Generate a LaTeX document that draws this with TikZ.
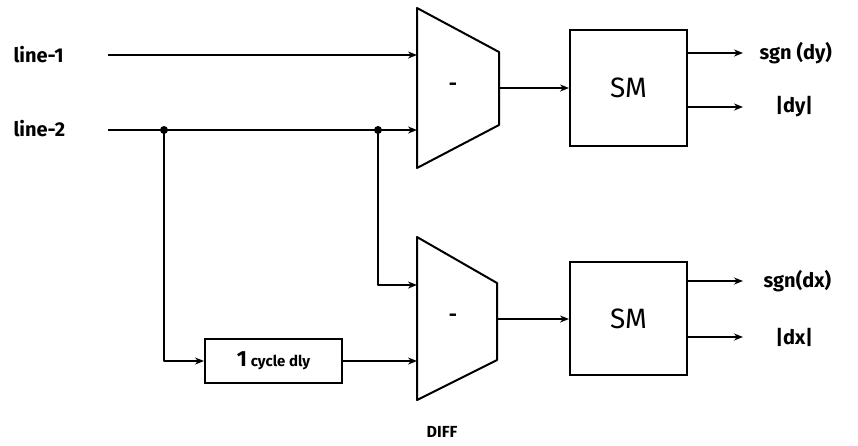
\documentclass[tikz,border=0pt]{standalone}
\usepackage{fontspec}
\setmainfont{Fira Sans}
\usetikzlibrary{arrows.meta}
\begin{document}
\begin{tikzpicture}[x=1pt,y=-1pt,
  wire/.style={line width=2pt,line join=round},
  arr/.style={wire,-{Stealth[length=9pt,width=7pt]}},
  box/.style={draw,line width=2pt,inner sep=0pt},
  lbl/.style={font=\bfseries\fontsize{20}{24}\selectfont},
  dot/.style={circle,fill,inner sep=0pt,minimum size=8pt}]
\useasboundingbox (0,0) rectangle (858,445);
% labels
\node[lbl,anchor=west] (l1) at (10,55) {line-1};
\node[lbl,anchor=west] (l2) at (10,129) {line-2};
% muxes
\draw[wire] (417,8) -- (499,52) -- (499,125) -- (417,168) -- cycle;
\coordinate (m1a) at (417,55);
\coordinate (m1b) at (417,130);
\coordinate (m1o) at (499,88);
\node[lbl] (m1m) at (453,87) {-};
\draw[wire] (417,237) -- (497,283) -- (497,360) -- (417,400) -- cycle;
\coordinate (m2a) at (417,285);
\coordinate (m2b) at (417,361);
\coordinate (m2o) at (497,319);
\node[lbl] (m2m) at (453,318) {-};
\node[font=\bfseries\fontsize{16}{19}\selectfont] (diff) at (442,432) {DIFF};
% SM boxes
\node[box,minimum width=117pt,minimum height=116pt] (sm1) at (628.5,88) {};
\node[font=\fontsize{28}{32}\selectfont] (sm1t) at (sm1.center) {SM};
\node[box,minimum width=117pt,minimum height=113pt] (sm2) at (628.5,318.5) {};
\node[font=\fontsize{28}{32}\selectfont] (sm2t) at (sm2.center) {SM};
% delay
\node[box,minimum width=137pt,minimum height=44pt] (dly) at (273.5,361) {};
\node[font=\bfseries] (dlyt) at (dly.center) {\fontsize{22}{24}\selectfont 1\,\fontsize{15}{18}\selectfont cycle dly};
% outputs
\coordinate (o1) at (743,53);
\coordinate (o2) at (743,107);
\coordinate (o3) at (743,281);
\coordinate (o4) at (743,337);
\node[lbl,anchor=west] (t1) at (756,53) {sgn (dy)};
\node[lbl,anchor=west] (t2) at (772,107) {|dy|};
\node[lbl,anchor=west] (t3) at (760,281) {sgn(dx)};
\node[lbl,anchor=west] (t4) at (772,337) {|dx|};
% wires
\coordinate (s1) at (108,55);
\coordinate (s2) at (108,130);
\node[dot] (j1) at (164,130) {};
\node[dot] (j2) at (378,130) {};
\draw[arr] (s1) -- (m1a);
\draw[arr] (s2) -- (m1b);
\draw[arr] (j2.center) |- (m2a);
\draw[arr] (j1.center) |- (dly.west);
\draw[arr] (dly.east) -- (m2b);
\draw[arr] (m1o) -- (sm1.west |- m1o);
\draw[arr] (m2o) -- (sm2.west |- m2o);
\draw[arr] (sm1.east |- o1) -- (o1);
\draw[arr] (sm1.east |- o2) -- (o2);
\draw[arr] (sm2.east |- o3) -- (o3);
\draw[arr] (sm2.east |- o4) -- (o4);
\end{tikzpicture}
\end{document}
